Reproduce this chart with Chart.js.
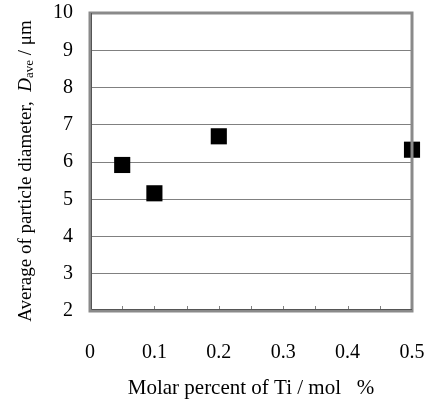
<!DOCTYPE html>
<html>
<head>
<meta charset="utf-8">
<script src="https://cdn.jsdelivr.net/npm/chart.js@4"></script>
<style>
  html, body { margin: 0; padding: 0; background: #fff; }
  #wrap { width: 430px; height: 401px; }
</style>
</head>
<body>
<div id="wrap"><canvas id="canvas" width="430" height="401"></canvas></div>
<script>
// values
var tiPercent = [0.05, 0.1, 0.2, 0.5];
var diameter = [5.92, 5.16, 6.69, 6.33];
var xTicks = [0, 0.1, 0.2, 0.3, 0.4, 0.5];
var yTicks = [2, 3, 4, 5, 6, 7, 8, 9, 10];

var serif = '"Liberation Serif", "Times New Roman", serif';

// frame, inward minor ticks and the y title with italic D and subscript
var decorations = {
    id: 'decorations',
    afterDatasetsDraw: function(chart) {
        var ctx = chart.ctx;
        var a = chart.chartArea;
        var xs = chart.scales.x;
        ctx.save();
        // small ticks every 0.05 pointing up into the plot
        ctx.strokeStyle = '#808080';
        ctx.lineWidth = 1;
        for (var v = 0.05; v < 0.5; v += 0.05) {
            var px = Math.round(xs.getPixelForValue(v)) + 0.5;
            ctx.beginPath();
            ctx.moveTo(px, a.bottom);
            ctx.lineTo(px, a.bottom - 5);
            ctx.stroke();
        }
        ctx.strokeStyle = '#8a8a8a';
        ctx.lineWidth = 3;
        ctx.strokeRect(a.left, a.top, a.right - a.left, a.bottom - a.top);
        ctx.strokeStyle = '#555';
        ctx.lineWidth = 1;
        ctx.beginPath();
        ctx.moveTo(a.left + 1.5, a.top);
        ctx.lineTo(a.left + 1.5, a.bottom - 1.5);
        ctx.lineTo(a.right, a.bottom - 1.5);
        ctx.stroke();
        ctx.restore();
    },
    afterDraw: function(chart) {
        var ctx = chart.ctx;
        ctx.save();
        // y axis title
        var parts = [
            {t: 'Average of particle diameter,  ', f: '19px ' + serif, dy: 0},
            {t: 'D', f: 'italic 19px ' + serif, dy: 0},
            {t: 'ave', f: '13px ' + serif, dy: 4},
            {t: ' / \u03bcm', f: '19px ' + serif, dy: 0}
        ];
        var total = 0;
        parts.forEach(function(p) { ctx.font = p.f; p.w = ctx.measureText(p.t).width; total += p.w; });
        ctx.translate(26, 171);
        ctx.rotate(-Math.PI / 2);
        ctx.fillStyle = '#000';
        ctx.textBaseline = 'middle';
        var x = -total / 2;
        parts.forEach(function(p) {
            ctx.font = p.f;
            ctx.fillText(p.t, x, p.dy);
            x += p.w;
        });
        ctx.restore();
    }
};

var chart = new Chart(document.getElementById('canvas'), {
    type: 'scatter',
    data: {
        datasets: [{
            data: tiPercent.map(function(x, i) { return {x: x, y: diameter[i]}; }),
            pointStyle: 'rect',
            pointRadius: 11.4,
            pointHoverRadius: 11.4,
            backgroundColor: '#000',
            borderColor: '#000',
            borderWidth: 0,
            clip: false
        }]
    },
    options: {
        responsive: false,
        animation: false,
        events: [],
        layout: {padding: {top: 13, right: 18, left: 0, bottom: 0}},
        plugins: {legend: {display: false}, tooltip: {enabled: false}},
        scales: {
            x: {
                type: 'linear',
                min: 0,
                max: 0.5,
                afterBuildTicks: function(s) { s.ticks = xTicks.map(function(v) { return {value: v}; }); },
                afterFit: function(s) { s.height = 90; s.paddingLeft = 0; s.paddingRight = 0; },
                ticks: {
                    color: '#000',
                    font: {family: serif, size: 20},
                    padding: 22,
                    maxRotation: 0,
                    callback: function(v) { return v === 0 ? '0' : v.toFixed(1); }
                },
                grid: {display: false},
                border: {display: false},
                title: {
                    display: true,
                    text: 'Molar percent of Ti / mol\u00a0\u00a0\u00a0%',
                    color: '#000',
                    font: {family: serif, size: 21},
                    padding: {top: 0, bottom: 0}
                }
            },
            y: {
                min: 2,
                max: 10,
                afterBuildTicks: function(s) { s.ticks = yTicks.map(function(v) { return {value: v}; }); },
                afterFit: function(s) { s.width = 90; s.paddingTop = 0; s.paddingBottom = 0; },
                ticks: {
                    color: '#000',
                    font: {family: serif, size: 20},
                    padding: 17
                },
                grid: {color: '#808080', lineWidth: 1, drawTicks: false},
                border: {display: false}
            }
        }
    },
    plugins: [decorations]
});
</script>
</body>
</html>
